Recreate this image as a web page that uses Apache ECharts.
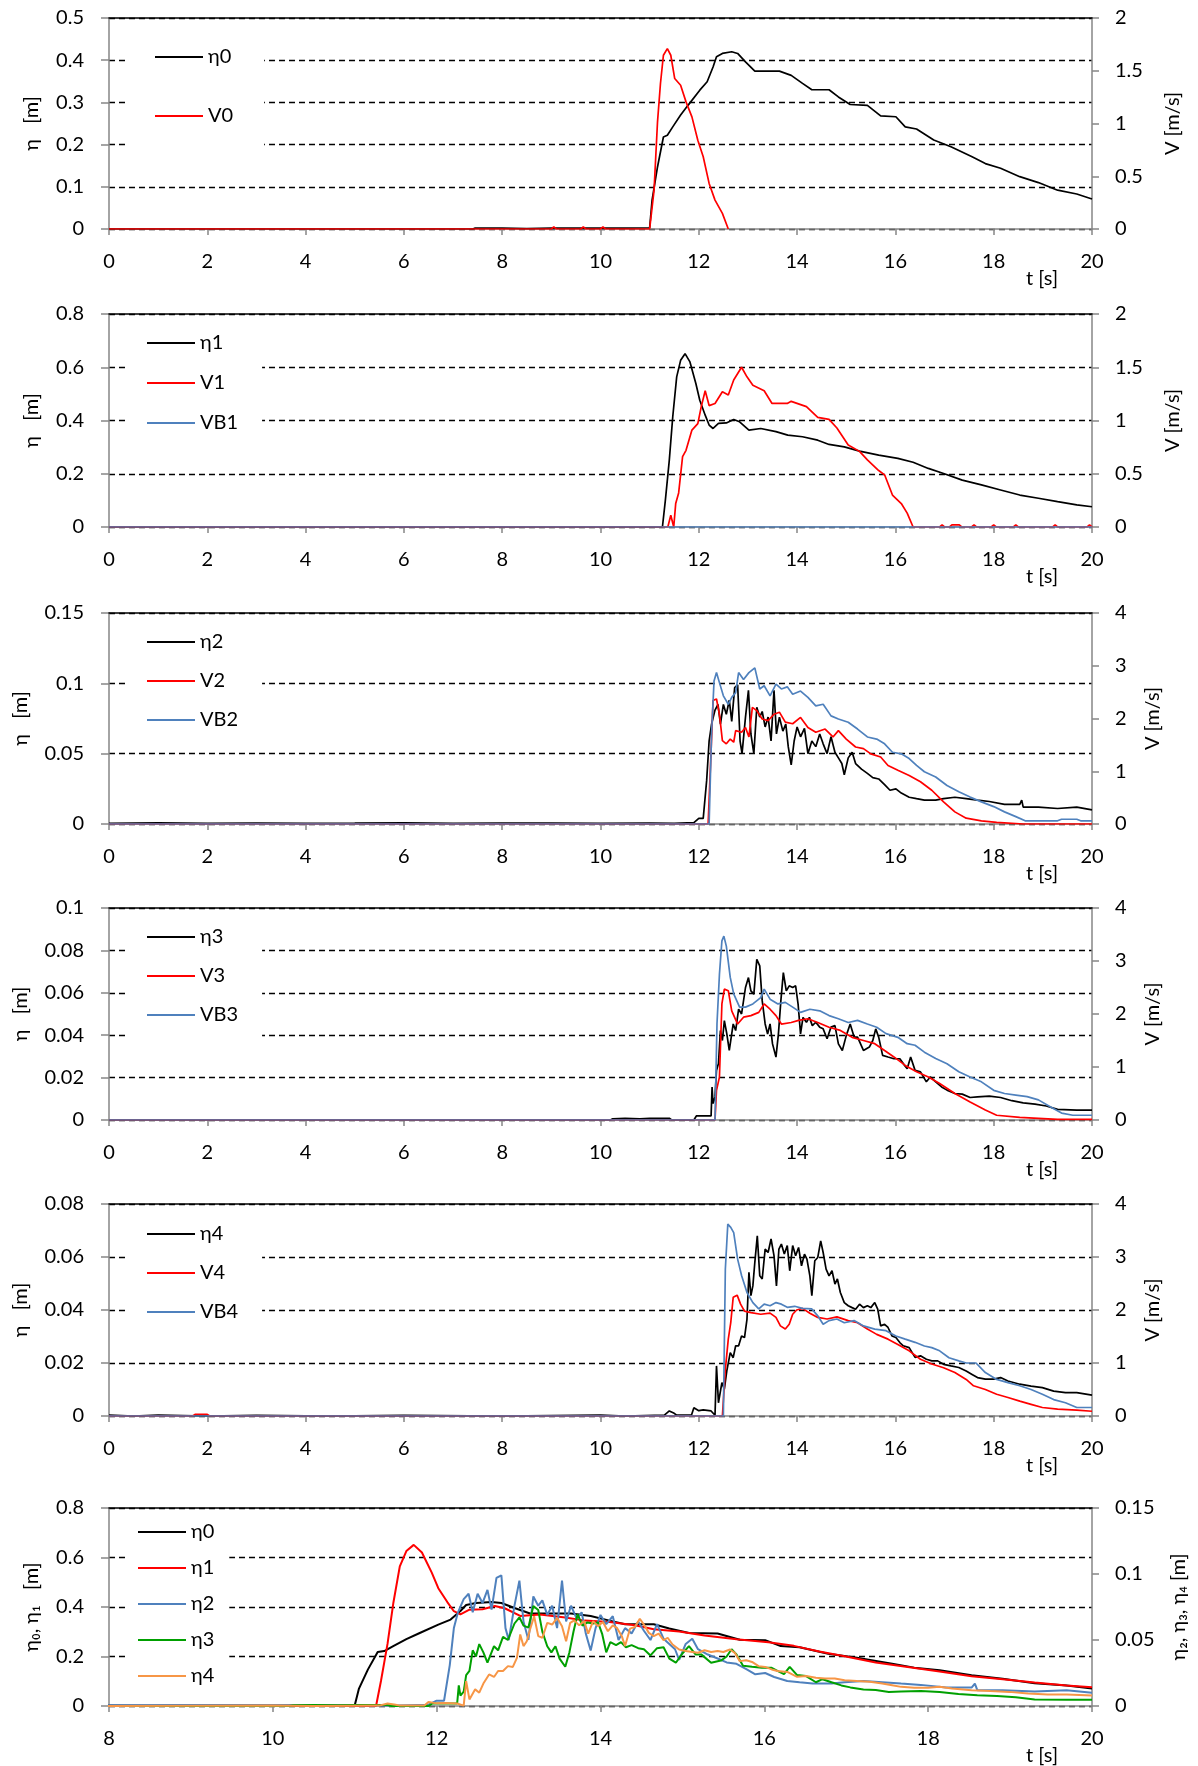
<!DOCTYPE html>
<html><head><meta charset="utf-8">
<script src="https://cdn.jsdelivr.net/npm/echarts@6/dist/echarts.min.js"></script>
<style>html,body{margin:0;padding:0;background:#fff}#c{width:1198px;height:1766px}</style>
</head><body><div id="c"></div>
<script>
// ---------- DATA (t [s], value) ----------
const eta0 = [[0,0],[7.4,0],[7.45,0.002],[8.0,0.002],[8.5,0.001],[9.0,0.002],[9.5,0.002],[10.0,0.002],[10.5,0.002],[11.0,0.003],[11.05,0.069],[11.16,0.147],[11.28,0.218],[11.36,0.222],[11.47,0.242],[11.63,0.27],[11.78,0.293],[12.02,0.329],[12.17,0.349],[12.29,0.384],[12.36,0.408],[12.48,0.416],[12.67,0.42],[12.79,0.416],[12.95,0.396],[13.14,0.374],[13.41,0.374],[13.64,0.374],[13.88,0.364],[14.11,0.345],[14.3,0.33],[14.65,0.33],[14.84,0.313],[15.08,0.295],[15.43,0.293],[15.7,0.268],[16.01,0.266],[16.2,0.242],[16.43,0.237],[16.78,0.211],[17.13,0.195],[17.56,0.171],[17.83,0.155],[18.14,0.144],[18.53,0.124],[18.91,0.11],[19.3,0.092],[19.69,0.083],[20,0.071]];
const v0 = [[0,0],[9.0,0],[9.05,0.02],[9.1,0],[9.6,0],[9.65,0.02],[9.7,0],[10.0,0],[10.05,0.02],[10.1,0],[11.0,0],[11.09,0.369],[11.16,1.016],[11.22,1.379],[11.28,1.647],[11.36,1.71],[11.43,1.647],[11.51,1.426],[11.63,1.363],[11.74,1.205],[11.86,1.063],[11.98,0.842],[12.09,0.685],[12.21,0.432],[12.33,0.274],[12.48,0.148],[12.6,0]];
const eta1 = [[0,0],[11.26,0],[11.32,0.101],[11.4,0.251],[11.47,0.414],[11.55,0.564],[11.63,0.626],[11.72,0.651],[11.82,0.62],[11.94,0.539],[12.02,0.476],[12.13,0.42],[12.21,0.383],[12.29,0.37],[12.4,0.389],[12.56,0.391],[12.71,0.404],[12.83,0.395],[13.02,0.364],[13.26,0.37],[13.57,0.358],[13.81,0.345],[14.11,0.339],[14.42,0.326],[14.65,0.31],[14.96,0.301],[15.27,0.285],[15.66,0.27],[16.05,0.258],[16.36,0.243],[16.67,0.22],[16.98,0.201],[17.36,0.176],[17.75,0.158],[18.14,0.139],[18.53,0.12],[18.91,0.108],[19.3,0.095],[19.69,0.083],[20,0.076]];
const v1 = [[0,0],[11.37,0],[11.43,0.11],[11.49,0],[11.53,0.22],[11.59,0.32],[11.67,0.66],[11.74,0.72],[11.86,0.91],[11.98,0.97],[12.05,1.13],[12.13,1.28],[12.21,1.14],[12.33,1.16],[12.48,1.27],[12.6,1.24],[12.71,1.38],[12.87,1.5],[12.98,1.41],[13.1,1.33],[13.33,1.28],[13.49,1.16],[13.8,1.16],[13.88,1.18],[14.19,1.13],[14.42,1.03],[14.65,1.01],[14.81,0.93],[15.04,0.77],[15.27,0.71],[15.43,0.63],[15.66,0.53],[15.78,0.49],[15.94,0.3],[16.12,0.22],[16.24,0.13],[16.36,0],[16.9,0],[16.95,0.02],[17.0,0],[17.1,0],[17.15,0.02],[17.3,0.02],[17.35,0],[17.55,0],[17.6,0.02],[17.65,0],[17.95,0],[18.0,0.02],[18.05,0],[18.4,0],[18.45,0.02],[18.5,0],[19.2,0],[19.25,0.02],[19.3,0],[19.9,0],[19.95,0.02],[20,0]];
const vb1 = [[0,0],[20,0]];
const eta2 = [[0,0.0005],[1,0.0008],[2,0.0004],[3,0.0007],[4,0.0005],[5,0.0006],[6,0.0008],[7,0.0004],[8,0.0006],[9,0.0007],[10,0.0005],[11,0.0006],[11.5,0.0004],[11.9,0.001],[12.0,0.004],[12.09,0.004],[12.16,0.031],[12.21,0.059],[12.26,0.071],[12.33,0.081],[12.39,0.085],[12.44,0.071],[12.5,0.085],[12.56,0.078],[12.62,0.088],[12.67,0.073],[12.73,0.097],[12.79,0.099],[12.84,0.059],[12.88,0.05],[12.95,0.076],[13.01,0.095],[13.06,0.064],[13.12,0.05],[13.18,0.083],[13.24,0.076],[13.29,0.08],[13.35,0.069],[13.41,0.076],[13.47,0.059],[13.53,0.095],[13.58,0.064],[13.64,0.076],[13.71,0.066],[13.77,0.071],[13.82,0.055],[13.88,0.042],[13.94,0.059],[14.0,0.069],[14.07,0.062],[14.15,0.068],[14.22,0.05],[14.3,0.059],[14.38,0.055],[14.46,0.064],[14.53,0.057],[14.61,0.05],[14.69,0.062],[14.77,0.051],[14.84,0.047],[14.91,0.043],[14.96,0.035],[15.04,0.047],[15.12,0.051],[15.19,0.043],[15.31,0.039],[15.43,0.036],[15.54,0.033],[15.66,0.032],[15.78,0.028],[15.89,0.024],[16.01,0.025],[16.12,0.022],[16.28,0.019],[16.43,0.018],[16.59,0.017],[16.82,0.017],[16.98,0.018],[17.21,0.019],[17.44,0.018],[17.67,0.017],[17.91,0.016],[18.22,0.014],[18.53,0.014],[18.57,0.017],[18.6,0.012],[18.91,0.012],[19.3,0.011],[19.69,0.012],[20,0.01]];
const v2 = [[0,0],[12.19,0],[12.25,1.39],[12.29,2.34],[12.36,2.37],[12.42,2.08],[12.48,1.58],[12.56,1.52],[12.64,1.61],[12.71,1.55],[12.75,1.77],[12.87,1.74],[12.95,1.83],[13.02,1.65],[13.09,2.21],[13.18,2.15],[13.29,1.99],[13.41,1.96],[13.53,2.08],[13.64,2.12],[13.76,1.93],[13.91,1.9],[14.07,2.02],[14.22,1.83],[14.38,1.74],[14.57,1.8],[14.73,1.65],[14.84,1.77],[15.0,1.61],[15.19,1.46],[15.35,1.43],[15.5,1.33],[15.7,1.27],[15.85,1.11],[16.05,1.02],[16.28,0.92],[16.51,0.8],[16.74,0.64],[16.98,0.42],[17.21,0.23],[17.44,0.11],[17.75,0.06],[18.06,0.03],[18.6,0],[20,0]];
const vb2 = [[0,0],[12.21,0],[12.26,1.71],[12.31,2.71],[12.36,2.87],[12.42,2.68],[12.5,2.43],[12.6,2.27],[12.67,2.4],[12.75,2.49],[12.81,2.87],[12.91,2.74],[13.02,2.87],[13.14,2.96],[13.24,2.56],[13.33,2.62],[13.45,2.43],[13.57,2.65],[13.68,2.56],[13.8,2.6],[13.91,2.46],[14.07,2.52],[14.22,2.4],[14.38,2.24],[14.53,2.27],[14.69,2.05],[14.84,1.99],[15.04,1.93],[15.23,1.8],[15.43,1.65],[15.62,1.61],[15.78,1.52],[15.94,1.36],[16.12,1.33],[16.28,1.24],[16.43,1.11],[16.59,0.99],[16.82,0.89],[17.05,0.73],[17.29,0.61],[17.52,0.51],[17.75,0.42],[18.0,0.33],[18.22,0.23],[18.45,0.14],[18.64,0.06],[19.3,0.06],[19.38,0.09],[19.69,0.09],[19.77,0.06],[20,0.06]];
const eta3 = [[0,0],[10.2,0],[10.25,0.0006],[10.5,0.0008],[10.8,0.0005],[11.0,0.0008],[11.4,0.0008],[11.45,0],[11.9,0],[11.95,0.0019],[12.25,0.0019],[12.27,0.0156],[12.29,0.0078],[12.33,0.0109],[12.36,0.0234],[12.4,0.0266],[12.44,0.0422],[12.48,0.0375],[12.52,0.0469],[12.57,0.0406],[12.62,0.0328],[12.66,0.0391],[12.7,0.0453],[12.75,0.0422],[12.81,0.0523],[12.87,0.05],[12.95,0.0625],[13.01,0.0672],[13.06,0.0609],[13.12,0.0594],[13.18,0.0758],[13.24,0.0727],[13.29,0.0563],[13.35,0.0453],[13.4,0.0406],[13.45,0.0453],[13.5,0.0359],[13.57,0.0297],[13.62,0.0406],[13.67,0.0563],[13.72,0.0695],[13.78,0.0609],[13.84,0.0633],[13.91,0.0625],[13.97,0.0633],[14.02,0.0547],[14.07,0.0406],[14.12,0.0484],[14.19,0.0461],[14.25,0.0484],[14.31,0.0445],[14.38,0.0461],[14.46,0.0438],[14.53,0.043],[14.61,0.0383],[14.69,0.0438],[14.77,0.0445],[14.84,0.0359],[14.92,0.0328],[15.0,0.0398],[15.08,0.0453],[15.16,0.0391],[15.23,0.0391],[15.35,0.0328],[15.47,0.0344],[15.54,0.0375],[15.6,0.043],[15.66,0.0391],[15.74,0.0305],[15.85,0.0297],[15.97,0.0289],[16.09,0.0289],[16.16,0.0266],[16.24,0.0242],[16.31,0.0297],[16.4,0.0234],[16.51,0.0227],[16.63,0.018],[16.71,0.0203],[16.82,0.018],[16.94,0.0156],[17.05,0.0141],[17.21,0.0125],[17.36,0.0122],[17.52,0.0106],[17.67,0.0109],[17.91,0.0113],[18.14,0.0106],[18.37,0.0091],[18.6,0.0081],[18.84,0.0075],[19.07,0.0066],[19.3,0.005],[19.69,0.0047],[20,0.0047]];
const v3 = [[0,0],[12.33,0],[12.36,0.56],[12.42,0.81],[12.47,2.19],[12.52,2.47],[12.6,2.44],[12.67,2.06],[12.79,1.81],[12.91,1.94],[13.06,1.97],[13.22,2.03],[13.33,2.19],[13.45,2.09],[13.57,1.97],[13.68,1.81],[13.88,1.84],[14.03,1.88],[14.22,1.91],[14.42,1.84],[14.65,1.75],[14.88,1.69],[15.12,1.56],[15.35,1.5],[15.58,1.44],[15.78,1.31],[15.97,1.19],[16.2,1.03],[16.43,0.91],[16.67,0.81],[16.9,0.69],[17.21,0.5],[17.52,0.34],[17.83,0.19],[18.06,0.09],[18.53,0.05],[18.91,0.03],[19.3,0.01],[20,0.01]];
const vb3 = [[0,0],[12.33,0],[12.37,1.81],[12.42,2.75],[12.47,3.38],[12.51,3.47],[12.56,3.28],[12.64,2.69],[12.71,2.38],[12.83,2.13],[12.95,2.13],[13.1,2.19],[13.26,2.31],[13.33,2.47],[13.45,2.28],[13.61,2.19],[13.76,2.22],[13.91,2.13],[14.07,2.03],[14.26,2.09],[14.46,2.06],[14.65,1.97],[14.84,1.91],[15.04,1.84],[15.23,1.88],[15.43,1.81],[15.62,1.75],[15.81,1.63],[16.05,1.56],[16.24,1.44],[16.4,1.41],[16.59,1.28],[16.82,1.16],[17.05,1.06],[17.29,0.91],[17.52,0.81],[17.75,0.72],[18.0,0.56],[18.22,0.5],[18.45,0.47],[18.68,0.44],[18.91,0.38],[19.15,0.25],[19.38,0.13],[19.61,0.09],[20,0.09]];
const eta4 = [[0,0.0003],[0.5,0],[1.0,0.0003],[2.0,0],[3.0,0.0002],[4.5,0],[6.0,0.0002],[8.0,0],[10.0,0.0003],[10.5,0],[11.3,0.0003],[11.4,0.0019],[11.5,0.001],[11.55,0.0003],[11.85,0.0003],[11.9,0.0031],[12.0,0.002],[12.09,0.0023],[12.25,0.0019],[12.33,0.0003],[12.36,0.0189],[12.4,0.005],[12.47,0.0126],[12.52,0.0101],[12.57,0.017],[12.64,0.0239],[12.7,0.022],[12.75,0.0265],[12.81,0.0265],[12.87,0.0302],[12.93,0.0296],[12.98,0.0365],[13.02,0.0542],[13.06,0.0454],[13.1,0.0491],[13.14,0.058],[13.19,0.068],[13.24,0.0529],[13.29,0.0517],[13.35,0.063],[13.41,0.0617],[13.47,0.0668],[13.53,0.0605],[13.58,0.0491],[13.63,0.063],[13.68,0.0649],[13.74,0.0611],[13.8,0.0643],[13.85,0.0548],[13.91,0.0643],[13.97,0.0605],[14.03,0.0636],[14.09,0.0567],[14.15,0.0611],[14.2,0.0592],[14.26,0.0529],[14.3,0.0454],[14.36,0.0586],[14.42,0.0598],[14.48,0.0661],[14.53,0.0617],[14.59,0.0554],[14.65,0.0529],[14.71,0.0548],[14.77,0.0498],[14.82,0.0517],[14.88,0.0466],[14.96,0.0428],[15.04,0.0416],[15.12,0.0409],[15.19,0.0403],[15.27,0.0422],[15.35,0.0409],[15.43,0.0416],[15.5,0.0409],[15.58,0.0428],[15.64,0.0403],[15.7,0.034],[15.78,0.0346],[15.85,0.0334],[15.93,0.0302],[16.01,0.0296],[16.09,0.0277],[16.16,0.0265],[16.28,0.0258],[16.4,0.0221],[16.51,0.0227],[16.63,0.0214],[16.74,0.0208],[16.86,0.0208],[16.98,0.0195],[17.13,0.0189],[17.29,0.0183],[17.44,0.017],[17.56,0.0157],[17.67,0.0145],[17.83,0.0139],[18.0,0.0139],[18.14,0.0145],[18.29,0.0132],[18.53,0.012],[18.76,0.0113],[18.99,0.0107],[19.22,0.0094],[19.46,0.0088],[19.69,0.0088],[20,0.0079]];
const v4 = [[0,0],[1.7,0],[1.75,0.03],[2.0,0.03],[2.05,0],[12.48,0],[12.54,0.88],[12.6,1.45],[12.65,1.76],[12.7,2.24],[12.78,2.28],[12.85,2.11],[12.93,1.98],[13.06,1.95],[13.26,1.92],[13.45,1.94],[13.57,1.86],[13.66,1.7],[13.76,1.64],[13.84,1.73],[13.91,1.92],[13.99,2.0],[14.11,2.03],[14.26,1.94],[14.42,1.86],[14.61,1.83],[14.81,1.87],[15.04,1.8],[15.23,1.76],[15.43,1.64],[15.62,1.54],[15.85,1.45],[16.05,1.35],[16.28,1.23],[16.51,1.07],[16.74,0.98],[16.98,0.91],[17.21,0.82],[17.44,0.69],[17.59,0.57],[17.83,0.5],[18.06,0.41],[18.29,0.35],[18.53,0.28],[18.76,0.22],[18.99,0.16],[19.3,0.13],[19.69,0.11],[20,0.09]];
const vb4 = [[0,0],[12.5,0],[12.54,2.77],[12.59,3.62],[12.65,3.56],[12.71,3.46],[12.79,2.96],[12.87,2.65],[12.98,2.33],[13.1,2.14],[13.22,2.02],[13.33,2.11],[13.45,2.08],[13.57,2.14],[13.68,2.11],[13.8,2.05],[13.95,2.07],[14.11,2.03],[14.3,2.02],[14.42,1.89],[14.53,1.73],[14.65,1.8],[14.81,1.83],[14.96,1.76],[15.16,1.8],[15.35,1.7],[15.58,1.64],[15.81,1.61],[16.01,1.51],[16.2,1.45],[16.4,1.39],[16.59,1.32],[16.74,1.29],[16.9,1.23],[17.09,1.1],[17.29,1.04],[17.44,1.0],[17.64,1.0],[17.83,0.82],[18.06,0.69],[18.29,0.63],[18.53,0.57],[18.76,0.5],[18.99,0.41],[19.22,0.31],[19.46,0.25],[19.69,0.16],[20,0.16]];

// axis ranges [min, max, interval]
const tRangeFull = [0, 20, 2];
const tRangeZoom = [8, 20, 2];
const yRanges = [
  {L:[0,0.5,0.1],  R:[0,2,0.5]},
  {L:[0,0.8,0.2],  R:[0,2,0.5]},
  {L:[0,0.15,0.05],R:[0,4,1]},
  {L:[0,0.1,0.02], R:[0,4,1]},
  {L:[0,0.08,0.02],R:[0,4,1]},
  {L:[0,0.8,0.2],  R:[0,0.15,0.05]}
];
const axisNames = [
  ['η   [m]','V [m/s]'],['η   [m]','V [m/s]'],['η   [m]','V [m/s]'],
  ['η   [m]','V [m/s]'],['η   [m]','V [m/s]'],['η₀, η₁   [m]','η₂, η₃, η₄ [m]']
];
// series: [legend name, data, color key, axis side]
const seriesDefs = [
  [['η0',eta0,'k',0],['V0',v0,'r',1]],
  [['η1',eta1,'k',0],['V1',v1,'r',1],['VB1',vb1,'b',1]],
  [['η2',eta2,'k',0],['V2',v2,'r',1],['VB2',vb2,'b',1]],
  [['η3',eta3,'k',0],['V3',v3,'r',1],['VB3',vb3,'b',1]],
  [['η4',eta4,'k',0],['V4',v4,'r',1],['VB4',vb4,'b',1]],
  [['p6|η0',eta0,'k',0],['p6|η1',eta1,'r',0],['p6|η2',eta2,'b',1],['p6|η3',eta3,'g',1],['p6|η4',eta4,'o',1]]
];

// ---------- LAYOUT / STYLE ----------
const COLORS = {k:'#000000', r:'#FF0000', b:'#4F81BD', g:'#00A000', o:'#F79646'};
const FONT = 'Lato, "Open Sans", sans-serif';
const FS = 20;
const GRID_LEFT = 109, GRID_RIGHT = 106;
const layout = [
  {top:18,  height:211, gapL:67, gapR:71, lg:{top:40,  left:127, gap:39, pad:[7,31,30,28]}},
  {top:314, height:213, gapL:67, gapR:71, lg:{top:330, left:127, gap:20, pad:[3,24,10,20]}},
  {top:613, height:211, gapL:78, gapR:51, lg:{top:625, left:127, gap:19, pad:[7,24,10,20]}},
  {top:908, height:212, gapL:78, gapR:51, lg:{top:920, left:127, gap:19, pad:[7,24,15,20]}},
  {top:1204,height:212, gapL:78, gapR:51, lg:{top:1217,left:127, gap:19, pad:[7,24,10,20]}},
  {top:1508,height:198, gapL:67, gapR:77, lg:{top:1517,left:128, gap:16, pad:[5,15,4,10]}}
];
const GRAY = '#868686';
const txt = {fontFamily:FONT, fontSize:FS, color:'#000'};

const grids=[], xAxes=[], yAxes=[], series=[], legends=[];
layout.forEach((L,i)=>{
  grids.push({left:GRID_LEFT, right:GRID_RIGHT, top:L.top, height:L.height});
  const tr = i===5 ? tRangeZoom : tRangeFull;
  xAxes.push({type:'value', gridIndex:i, min:tr[0], max:tr[1], interval:tr[2], position:'bottom', z:1,
    name:'t [s]', nameLocation:'end', nameGap:-50,
    nameTextStyle:Object.assign({}, txt, {align:'center', verticalAlign:'top', padding:[40,0,0,0]}),
    axisLine:{onZero:false, lineStyle:{color:GRAY, width:1.5}}, axisTick:{length:6, lineStyle:{color:GRAY, width:1.5}},
    axisLabel:Object.assign({}, txt, {margin:23}), splitLine:{show:false}});
  xAxes.push({type:'value', gridIndex:i, min:tr[0], max:tr[1], position:'top', z:1,
    axisLine:{onZero:false, lineStyle:{color:'#000', width:1.5}}, axisTick:{show:false}, axisLabel:{show:false}, splitLine:{show:false}});
  const yr = yRanges[i];
  yAxes.push({type:'value', gridIndex:i, position:'left', min:yr.L[0], max:yr.L[1], interval:yr.L[2], z:0,
    name:axisNames[i][0], nameLocation:'middle', nameGap:L.gapL, nameTextStyle:txt,
    axisLine:{show:true, onZero:false, lineStyle:{color:GRAY, width:1.5}}, axisTick:{show:true, length:8, lineStyle:{color:GRAY, width:1.5}},
    axisLabel:Object.assign({}, txt, {margin:25}),
    splitLine:{show:true, lineStyle:{color:'#000', type:[6,4], width:1.3}}});
  yAxes.push({type:'value', gridIndex:i, position:'right', min:yr.R[0], max:yr.R[1], interval:yr.R[2], z:0,
    name:axisNames[i][1], nameLocation:'middle', nameGap:L.gapR, nameTextStyle:txt,
    axisLine:{show:true, onZero:false, lineStyle:{color:GRAY, width:1.5}}, axisTick:{show:true, length:7, lineStyle:{color:GRAY, width:1.5}},
    axisLabel:Object.assign({}, txt, {margin:23}), splitLine:{show:false}});
  const names=[];
  seriesDefs[i].forEach(s=>{
    names.push(s[0]);
    series.push({type:'line', name:s[0], xAxisIndex:2*i, yAxisIndex:2*i+s[3], data:s[1],
      showSymbol:false, symbol:'none', z:2,
      lineStyle:{color:COLORS[s[2]], width: i===5 ? 2 : 1.7}, itemStyle:{color:COLORS[s[2]]}});
  });
  legends.push({orient:'vertical', left:L.lg.left, top:L.lg.top, itemGap:L.lg.gap,
    itemWidth:48, itemHeight:2, icon:'rect', backgroundColor:'#fff', padding:L.lg.pad,
    data:names, selectedMode:false, textStyle:txt, formatter:n=>n.split('|').pop(), z:4});
});

const chart = echarts.init(document.getElementById('c'), null, {renderer:'canvas'});
chart.setOption({animation:false, backgroundColor:'#fff', grid:grids, xAxis:xAxes, yAxis:yAxes, series:series, legend:legends});
</script>
</body></html>
